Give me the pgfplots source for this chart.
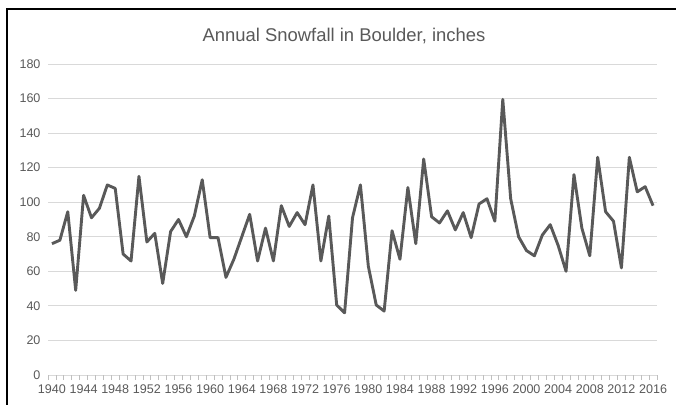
\documentclass[border=0pt]{standalone}
\usepackage{pgfplots}
\pgfplotsset{compat=1.18}
\usepackage{fontspec}
\setmainfont{Liberation Sans}
\definecolor{txtgray}{HTML}{595959}
\definecolor{linegray}{HTML}{595959}
\definecolor{gridgray}{HTML}{D9D9D9}
\definecolor{tickgray}{HTML}{BFBFBF}
\begin{document}
\begin{tikzpicture}[x=1bp,y=1bp]
\path[use as bounding box] (0,0) rectangle (676,404);
\draw[black,line width=2bp] (7,-2) -- (7,394.5) -- (680,394.5);
\node[txtgray,font=\fontsize{18.5}{20}\selectfont] at (344,368) {Annual Snowfall in Boulder, inches};
\begin{axis}[
  at={(48bp,29bp)}, anchor=origin,
  scale only axis, width=609bp, height=311bp,
  xmin=1939.5, xmax=2016.5, ymin=0, ymax=180,
  axis line style={draw=none},
  axis x line*=bottom,
  ytick={0,20,...,180},
  ymajorgrids, grid style={gridgray,line width=0.9bp},
  xtick={1940,1944,...,2016},
  minor xtick={1939.5,1940.5,...,2016.6},
  major tick length=0pt,
  minor tick length=5bp,
  minor tick style={tickgray,line width=0.8bp},
  tick align=outside,
  xticklabel style={txtgray,font=\fontsize{12.6}{13}\selectfont,yshift=-6.5bp},
  yticklabel style={txtgray,font=\fontsize{12.6}{13}\selectfont,xshift=-4bp},
  /pgf/number format/assume math mode=true,
  /pgf/number format/1000 sep={},
  clip=false,
]
\addplot[linegray,line width=2.9bp,line join=round] coordinates {
(1940,76)(1941,78)(1942,94.5)(1943,49)(1944,104)(1945,91)(1946,96.5)(1947,110)(1948,108)(1949,70)
(1950,66)(1951,115)(1952,77)(1953,82)(1954,53)(1955,83)(1956,90)(1957,80)(1958,92)(1959,113)
(1960,79.5)(1961,79.5)(1962,56.5)(1963,67)(1964,80)(1965,93)(1966,66)(1967,85)(1968,66)(1969,98)
(1970,86)(1971,94)(1972,87)(1973,110)(1974,66)(1975,92)(1976,40.5)(1977,36)(1978,91)(1979,110)
(1980,63)(1981,40.5)(1982,37)(1983,83.5)(1984,67)(1985,108.5)(1986,76)(1987,125)(1988,91.6)(1989,88)
(1990,95)(1991,84)(1992,94)(1993,79.5)(1994,99)(1995,102)(1996,89)(1997,159.5)(1998,102)(1999,80)
(2000,72)(2001,69)(2002,81)(2003,87)(2004,75)(2005,60)(2006,116)(2007,85)(2008,69)(2009,126)
(2010,94.5)(2011,89)(2012,62)(2013,126)(2014,106)(2015,109)(2016,98)
};
\end{axis}
\end{tikzpicture}
\end{document}
